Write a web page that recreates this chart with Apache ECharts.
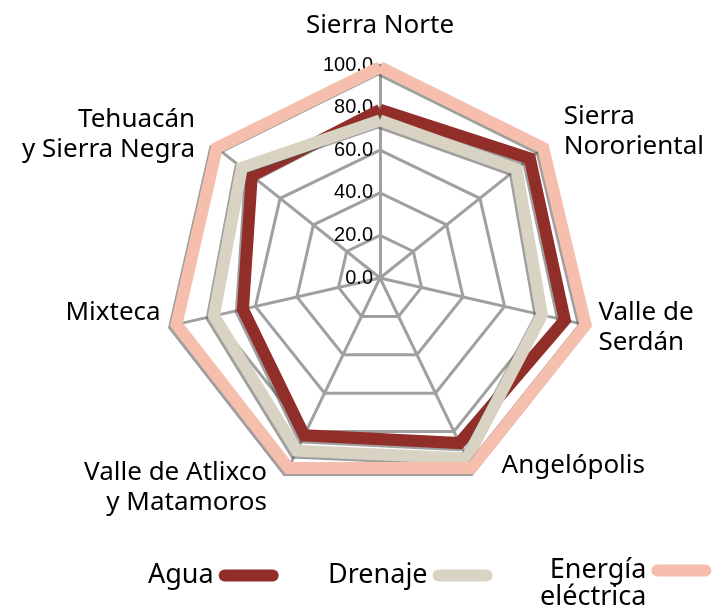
<!DOCTYPE html>
<html>
<head>
<meta charset="utf-8">
<script src="https://cdn.jsdelivr.net/npm/echarts@6/dist/echarts.min.js"></script>
<style>
  html, body { margin: 0; padding: 0; background: #fff; }
  #radar { width: 718px; height: 609px; }
</style>
</head>
<body>
<div id="radar"></div>
<script>
// regiones en el orden del gráfico (horario, desde arriba)
const regiones = ['Sierra Norte', 'Sierra\nNororiental', 'Valle de\nSerdán', 'Angelópolis',
    'Valle de Atlixco\ny Matamoros', 'Mixteca', 'Tehuacán\ny Sierra Negra'];
const agua = [79, 90, 89, 86, 82, 66, 77];
const drenaje = [74, 82, 78, 94, 90, 80, 83];
const energia = [99, 98, 99, 99, 99, 98, 98];
const ticks = [0, 20, 40, 60, 80, 100];

// ajuste de posición de cada nombre (mismo orden que regiones)
const nameGaps = [24, 22, 11, 12, 20, 12, 17];
const namePads = [0, 0, 0, [0, 0, 0, 24], [0, 12, 0, 0], 0, [0, 5, 0, 0]];
const nameVAlign = [null, null, null, 'bottom', null, 'bottom', null];

// echarts dibuja el radar en sentido antihorario
function ccw (arr) {
    return [arr[0]].concat(arr.slice(1).reverse())
}

const FONT = '"Noto Sans", "Open Sans", sans-serif';
const pill = 'path://M6,0 H54 A6,6 0 0 1 54,12 H6 A6,6 0 0 1 6,0 Z';

const gapsCcw = ccw(nameGaps), padsCcw = ccw(namePads), vaCcw = ccw(nameVAlign);
const indicator = ccw(regiones).map(function (name, i) {
    let ind = {
        name: name,
        min: ticks[0],
        max: ticks[ticks.length - 1],
        nameGap: gapsCcw[i],
        nameTextStyle: { padding: padsCcw[i] }
    }
    if (vaCcw[i]) ind.nameTextStyle.verticalAlign = vaCcw[i]
    if (i === 0) ind.axisLabel = { show: true }
    return ind
})

function serie (name, values, color) {
    return {
        name: name,
        value: ccw(values),
        symbol: 'none',
        itemStyle: { color: color },
        lineStyle: {
            color: color,
            width: 12,
            join: 'miter',
            shadowColor: 'rgba(80,80,80,0.55)',
            shadowBlur: 0,
            shadowOffsetX: -2,
            shadowOffsetY: 2
        }
    }
}

function leyenda (name, left, top) {
    return {
        data: [name],
        left: left,
        top: top,
        padding: 0,
        align: 'right',
        icon: pill,
        itemWidth: 60,
        itemHeight: 12,
        selectedMode: false,
        // línea vacía arriba para bajar el texto de dos renglones
        formatter: function (n) { return n === 'Energía eléctrica' ? '\nEnergía\neléctrica' : n },
        textStyle: { fontFamily: FONT, fontSize: 27, color: '#000', lineHeight: 27 }
    }
}

const chart = echarts.init(document.getElementById('radar'));
chart.setOption({
    animation: false,
    backgroundColor: '#fff',
    legend: [
        leyenda('Agua', 148, 562),
        leyenda('Drenaje', 328, 562),
        leyenda('Energía eléctrica', 540, 530)
    ],
    radar: {
        center: [380, 278],
        radius: 213,
        startAngle: 90,
        splitNumber: ticks.length - 1,
        shape: 'polygon',
        indicator: indicator,
        nameGap: 12,
        axisName: { color: '#000', fontFamily: FONT, fontSize: 26, lineHeight: 30 },
        splitArea: { show: false },
        splitLine: { lineStyle: { color: '#a0a0a0', width: 3 } },
        axisLine: { lineStyle: { color: '#a0a0a0', width: 3 } },
        axisTick: { show: false },
        axisLabel: {
            show: false,
            margin: 7,
            color: '#000',
            fontFamily: 'Liberation Sans, Arial, sans-serif',
            fontSize: 20,
            formatter: function (v) { return Number(v).toFixed(1) }
        }
    },
    series: [{
        type: 'radar',
        data: [
            serie('Agua', agua, '#922e29'),
            serie('Drenaje', drenaje, '#d8d3c3'),
            serie('Energía eléctrica', energia, '#f5bead')
        ]
    }]
});
</script>
</body>
</html>
